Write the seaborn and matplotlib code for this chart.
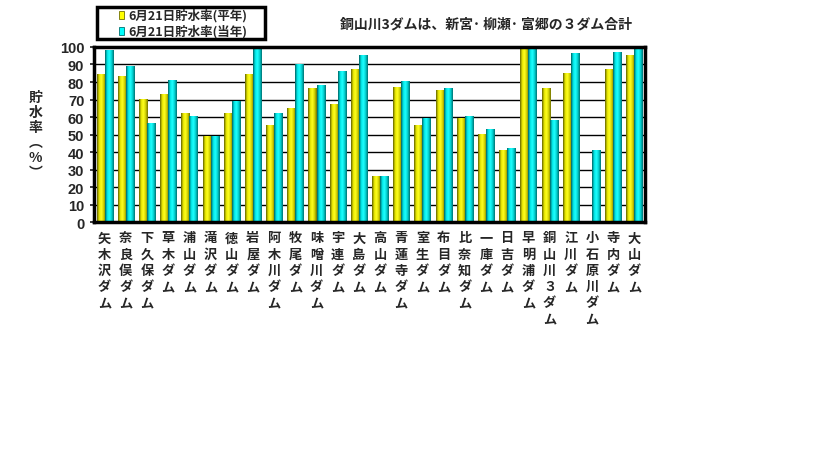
import numpy as np
import pandas as pd
import matplotlib
matplotlib.use("Agg")
import matplotlib.pyplot as plt
from matplotlib.colors import LinearSegmentedColormap
from matplotlib.patches import Rectangle
import seaborn as sns

# --- data ---
dams = ["矢木沢ダム", "奈良俣ダム", "下久保ダム", "草木ダム", "浦山ダム", "滝沢ダム",
        "徳山ダム", "岩屋ダム", "阿木川ダム", "牧尾ダム", "味噌川ダム", "宇連ダム",
        "大島ダム", "高山ダム", "青蓮寺ダム", "室生ダム", "布目ダム", "比奈知ダム",
        "一庫ダム", "日吉ダム", "早明浦ダム", "銅山川３ダム", "江川ダム",
        "小石原川ダム", "寺内ダム", "大山ダム"]
normal_rate = [84, 83, 70, 73, 62, 49, 62, 84, 55, 65, 76, 67,
               87, 26, 77, 55, 75, 59, 50, 41, 100, 76, 85, 0, 87, 95]
current_rate = [98, 89, 56, 81, 60, 49, 69, 100, 62, 90, 78, 86,
                95, 26, 80, 59, 76, 60, 53, 42, 100, 58, 96, 41, 97, 100]
series_names = ["6月21日貯水率(平年)", "6月21日貯水率(当年)"]
y_ticks = list(range(0, 101, 10))

sns.set_theme(style="white")
plt.rcParams['font.family'] = ['Noto Sans CJK JP', 'DejaVu Sans']

df = pd.DataFrame({
    "dam": dams * 2,
    "rate": normal_rate + current_rate,
    "series": [series_names[0]] * len(dams) + [series_names[1]] * len(dams),
})

fig = plt.figure(figsize=(8.19, 4.60), dpi=100)
ax = fig.add_axes([0.1148, 0.515, 0.6727, 0.3807])

colors = ["#FFFF00", "#00FFFF"]
palette = dict(zip(series_names, colors))
sns.barplot(data=df, x="dam", y="rate", hue="series", palette=palette,
            width=0.76, gap=0, ax=ax, legend=False, linewidth=0, saturation=1)

# cylinder-like gradient on each bar
grad_maps = [
    LinearSegmentedColormap.from_list("y", ["#606000", "#E8E800", "#FFFF20", "#D0D000", "#707000"]),
    LinearSegmentedColormap.from_list("c", ["#006060", "#00E8E8", "#20FFFF", "#00D0D0", "#007070"]),
]
grad = np.linspace(0, 1, 64).reshape(1, -1)
n = len(dams)
for i, p in enumerate(list(ax.patches)):
    h = p.get_height()
    if h <= 0:
        p.set_visible(False)
        continue
    x0 = p.get_x()
    w = p.get_width()
    ax.imshow(grad, cmap=grad_maps[i // n], aspect="auto",
              extent=[x0, x0 + w, 0, h], zorder=4, interpolation="bilinear")

ax.set_xlim(-0.5, len(dams) - 0.5)
ax.set_ylim(0, 100)
ax.set_aspect("auto")
ax.set_yticks(y_ticks)
ax.set_yticklabels([str(t) for t in y_ticks], family=['Liberation Sans', 'DejaVu Sans'],
                   fontsize=10.5, fontweight="bold")
ax.yaxis.grid(True, color="black", linewidth=1)
ax.set_axisbelow(True)
ax.set_xticks(range(len(dams)))
ax.set_xticklabels(["\n".join(d) for d in dams], fontsize=9.5, linespacing=1.2,
                   va="top", fontweight="bold")
ax.tick_params(axis="x", length=0, pad=6)
ax.tick_params(axis="y", length=3, direction="out", left=True, pad=4)
ax.set_xlabel("")
ax.set_ylabel("")
for s in ax.spines.values():
    s.set_color("black")
    s.set_linewidth(2.5)
    s.set_zorder(5)

# y-label stacked vertically
fig.text(0.043, 0.705, "貯\n水\n率\n︵\n%\n︶", ha="center", va="center",
         fontsize=10, fontweight="bold", linespacing=1.1)

# note text
fig.text(0.415, 0.946, "銅山川3ダムは、新宮･ 柳瀬･ 富郷の３ダム合計", ha="left", va="center",
         fontsize=10, fontweight="bold")

# legend box drawn by hand (pixel layout of the reference)
W, H = 819, 460
fig.patches.append(Rectangle((97 / W, 1 - 40 / H), 168 / W, 32 / H,
                             transform=fig.transFigure, facecolor="white",
                             edgecolor="black", linewidth=2.5))
for k, (name, c) in enumerate(zip(series_names, colors)):
    yc = 16 + 16 * k
    fig.patches.append(Rectangle((119 / W, 1 - (yc + 4) / H), 5 / W, 8 / H,
                                 transform=fig.transFigure, facecolor=c,
                                 edgecolor="#707000" if k == 0 else "#007070",
                                 linewidth=0.6))
    fig.text(128 / W, 1 - yc / H, name, ha="left", va="center",
             fontsize=9, fontweight="bold")

fig.savefig("out.png", dpi=100, facecolor="white")
